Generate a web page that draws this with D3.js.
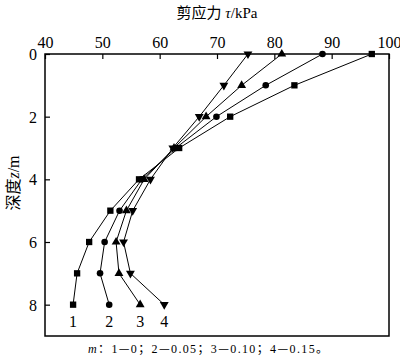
<!DOCTYPE html>
<html>
<head>
<meta charset="utf-8">
<script src="https://cdn.jsdelivr.net/npm/d3@7"></script>
<style>
  body { margin: 0; background: #fff; }
  text { font-family: "Times New Roman", "Liberation Serif", "DejaVu Serif", serif; fill: #000; }
  .cjk { font-family: "Noto Sans CJK SC", sans-serif; }
</style>
</head>
<body>
<div id="chart"></div>
<script>
// depth (m) and shear stress (kPa) per curve
var depths = [0, 1, 2, 3, 4, 5, 6, 7, 8];
var tau1 = [97.0, 83.5, 72.3, 63.4, 56.4, 51.4, 47.7, 45.6, 44.9];
var tau2 = [88.4, 78.5, 69.9, 62.8, 56.9, 53.0, 50.4, 49.6, 51.2];
var tau3 = [81.3, 74.3, 68.1, 62.5, 57.3, 54.2, 52.4, 52.9, 56.6];
var tau4 = [75.4, 71.2, 66.9, 62.3, 58.4, 55.3, 53.7, 54.9, 60.8];
var curveNames = ["1", "2", "3", "4"];
var mValues = ["0", "0.05", "0.10", "0.15"];
var xTicks = [40, 50, 60, 70, 80, 90, 100];
var yTicks = [0, 2, 4, 6, 8];

var serif = "'Times New Roman', 'Liberation Serif', 'DejaVu Serif', serif";

var margin = {top: 54, right: 11, bottom: 26, left: 45},
    width = 400 - margin.left - margin.right,
    height = 362 - margin.top - margin.bottom;

var root = d3.select("#chart")
  .append("svg")
    .attr("width", 400)
    .attr("height", 362);

var svg = root.append("g")
    .attr("transform", "translate(" + margin.left + "," + margin.top + ")");

var x = d3.scaleLinear().domain([40, 100]).range([0, width]);
var y = d3.scaleLinear().domain([0, 9]).range([0, height]);

// top axis, ticks pointing inside
var xAxis = svg.append("g")
  .call(d3.axisTop(x).tickValues(xTicks).tickSizeInner(-5).tickSizeOuter(0).tickPadding(6));
xAxis.attr("font-family", serif).attr("font-size", 16);
xAxis.selectAll("text").attr("dy", "0");
xAxis.select(".domain").remove();

var yAxis = svg.append("g")
  .call(d3.axisLeft(y).tickValues(yTicks).tickSizeInner(-5).tickSizeOuter(0).tickPadding(8));
yAxis.attr("font-family", serif).attr("font-size", 16);
yAxis.selectAll("text").attr("dy", "0.35em");
yAxis.select(".domain").remove();
svg.selectAll(".tick line").attr("stroke", "#000").attr("stroke-width", 1.2);

// frame
svg.append("rect")
  .attr("width", width)
  .attr("height", height)
  .attr("fill", "none")
  .attr("stroke", "#000")
  .attr("stroke-width", 1.5);

var series = [tau1, tau2, tau3, tau4];
var symbols = [d3.symbolSquare, d3.symbolCircle, d3.symbolTriangle, d3.symbolTriangle];
var sizes = [40, 34, 34, 34];

var line = d3.line()
  .x(function(d) { return x(d.t); })
  .y(function(d) { return y(d.z); });

series.forEach(function(vals, i) {
  var data = vals.map(function(v, k) { return {t: v, z: depths[k]}; });
  svg.append("path")
    .datum(data)
    .attr("fill", "none")
    .attr("stroke", "#000")
    .attr("stroke-width", 1)
    .attr("d", line);

  svg.selectAll(".m" + i)
    .data(data)
    .enter().append("path")
      .attr("class", "m" + i)
      .attr("d", d3.symbol().type(symbols[i]).size(sizes[i]))
      .attr("transform", function(d) {
        var rot = i === 3 ? " rotate(180)" : "";
        return "translate(" + x(d.t) + "," + y(d.z) + ")" + rot;
      })
      .attr("fill", "#000");

  // curve number under the last point
  var last = data[data.length - 1];
  svg.append("text")
    .attr("x", x(last.t))
    .attr("y", y(last.z) + 22)
    .attr("text-anchor", "middle")
    .attr("font-size", 16)
    .text(curveNames[i]);
});

// axis titles
var xt = root.append("text")
  .attr("x", 217)
  .attr("y", 18)
  .attr("text-anchor", "middle")
  .attr("font-size", 15);
xt.append("tspan").attr("class", "cjk").text("剪应力");
xt.append("tspan").style("font-style", "italic").text(" τ");
xt.append("tspan").text("/kPa");

var yt = root.append("text")
  .attr("transform", "translate(19,183) rotate(-90)")
  .attr("text-anchor", "middle")
  .attr("font-size", 16);
yt.append("tspan").attr("class", "cjk").text("深度");
yt.append("tspan").style("font-style", "italic").text("z");
yt.append("tspan").text("/m");

// caption: m：1—0；2—0.05；3—0.10；4—0.15。
var cap = root.append("text")
  .attr("x", 88)
  .attr("y", 353)
  .attr("font-size", 12)
  .attr("textLength", 240)
  .attr("lengthAdjust", "spacing");
cap.append("tspan").style("font-style", "italic").text("m");
cap.append("tspan").attr("class", "cjk").text("：");
curveNames.forEach(function(n, i) {
  cap.append("tspan").text(n);
  cap.append("tspan").attr("class", "cjk").text("—");
  cap.append("tspan").text(mValues[i]);
  cap.append("tspan").attr("class", "cjk").text(i < 3 ? "；" : "。");
});
</script>
</body>
</html>
